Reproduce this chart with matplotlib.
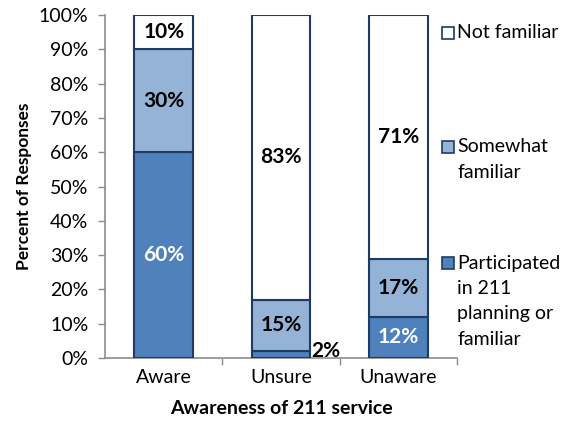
import matplotlib
matplotlib.use("Agg")
import matplotlib.pyplot as plt
from matplotlib.patches import Rectangle
import numpy as np

plt.rcParams['font.family'] = ['Lato', 'DejaVu Sans']

categories = ["Aware", "Unsure", "Unaware"]
series_names = ["Participated in 211 planning or familiar", "Somewhat familiar", "Not familiar"]
legend_labels = ["Participated\nin 211\nplanning or\nfamiliar", "Somewhat\nfamiliar", "Not familiar"]
participated = [60, 2, 12]
somewhat = [30, 15, 17]
not_familiar = [10, 83, 71]
y_ticks = [0, 10, 20, 30, 40, 50, 60, 70, 80, 90, 100]

colors = ["#4F81BD", "#95B3D7", "#FFFFFF"]
edge = "#1F3B63"
label_colors = ["white", "black", "black"]
gray = "#8C8C8C"

fig = plt.figure(figsize=(5.61, 4.32), dpi=100)
ax = fig.add_axes([105/561, 1-358/432, (457-105)/561, (358-15)/432])

x = np.arange(len(categories))
series = [participated, somewhat, not_familiar]
bottom = np.zeros(len(categories))
for i, vals in enumerate(series):
    ax.bar(x, vals, width=0.5, bottom=bottom, color=colors[i],
           edgecolor=edge, linewidth=1.5, zorder=3)
    for j, v in enumerate(vals):
        if v >= 5:
            ax.text(x[j], bottom[j] + v/2, f"{v}%", ha='center', va='center',
                    fontsize=15, fontweight='bold', color=label_colors[i], zorder=4)
        else:
            ax.text(x[j] + 0.26, bottom[j] + v/2 + 1.0, f"{v}%", ha='left', va='center',
                    fontsize=15, fontweight='bold', color='black', zorder=4)
    bottom = bottom + np.array(vals)

ax.set_xlim(-0.5, 2.5)
ax.set_ylim(0, 100)
ax.set_yticks(y_ticks)
ax.set_yticklabels([f"{t}%" for t in y_ticks], fontsize=14)
ax.set_xticks(x)
ax.set_xticklabels(categories, fontsize=14)
ax.set_xticks([0.5, 1.5, 2.5], minor=True)
ax.tick_params(axis='x', which='major', length=0, pad=8)
ax.tick_params(axis='x', which='minor', length=5, color=gray, width=1)
ax.tick_params(axis='y', length=5, color=gray, width=1, pad=7)
for s in ['top', 'right']:
    ax.spines[s].set_visible(False)
for s in ['left', 'bottom']:
    ax.spines[s].set_color(gray)
    ax.spines[s].set_linewidth(1.2)

ax.set_xlabel("Awareness of 211 service", fontsize=14, fontweight='bold', labelpad=10)
ax.set_ylabel("Percent of Responses", fontsize=12.5, fontweight='bold', labelpad=5)

# legend (reversed order), drawn manually so the marker sits on the first line
leg_y = [263, 147, 33]
line_step = 25.5
for i in range(len(series_names)):
    yc = 1 - leg_y[i]/432
    fig.patches.append(Rectangle((442/561, yc - 6/432), 12/561, 12/432,
                                 transform=fig.transFigure, facecolor=colors[i],
                                 edgecolor=edge, linewidth=1.2))
    for k, line in enumerate(legend_labels[i].split("\n")):
        fig.text(457/561, 1 - (leg_y[i] + k*line_step)/432, line, ha='left', va='center',
                 fontsize=14)

fig.savefig("out.png", dpi=100)
